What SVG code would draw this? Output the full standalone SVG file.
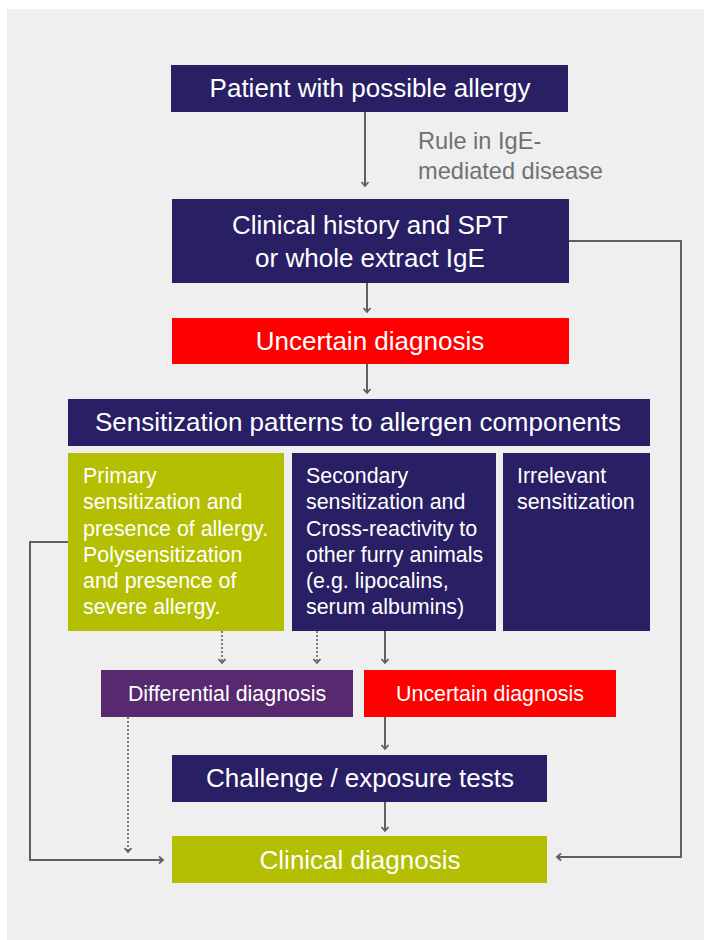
<svg xmlns="http://www.w3.org/2000/svg" width="704" height="940" viewBox="0 0 704 940">
<style>
.navy{fill:#291f64}
.green{fill:#b3bf00}
.red{fill:#ff0000}
.purple{fill:#57296f}
.big{font-family:"Liberation Sans",Arial,sans-serif;font-size:26px;fill:#ffffff}
.small{font-family:"Liberation Sans",Arial,sans-serif;font-size:21.4px;fill:#ffffff}
.lbl{font-family:"Liberation Sans",Arial,sans-serif;font-size:23.6px;fill:#707173}
.c{text-anchor:middle}
.ln{fill:none;stroke:#5d6063;stroke-width:2}
.dot{fill:none;stroke:#5d6063;stroke-width:1.6;stroke-dasharray:2 2}
</style>
<defs>
<marker id="arr" markerUnits="userSpaceOnUse" markerWidth="10" markerHeight="10" viewBox="0 0 10 10" refX="8" refY="5" orient="auto">
<path d="M4,1.5 L8,5 L4,8.5" fill="none" stroke="#5d6063" stroke-width="1.8" stroke-dasharray="none"/>
</marker>
</defs>
<rect x="7" y="9" width="697" height="931" fill="#efefef"/>
<g id="connectors">
<path class="ln" d="M365,111 V186" marker-end="url(#arr)"/>
<path class="ln" d="M367,283 V312" marker-end="url(#arr)"/>
<path class="ln" d="M367,364 V393" marker-end="url(#arr)"/>
<path class="dot" d="M222,631 V663" marker-end="url(#arr)"/>
<path class="dot" d="M317,631 V663" marker-end="url(#arr)"/>
<path class="ln" d="M385,631 V663" marker-end="url(#arr)"/>
<path class="ln" d="M385,717 V749" marker-end="url(#arr)"/>
<path class="ln" d="M385,802 V831" marker-end="url(#arr)"/>
<path class="dot" d="M128,717 V852" marker-end="url(#arr)"/>
<path class="ln" d="M68,542 H30 V860 H163" marker-end="url(#arr)"/>
<path class="ln" d="M569,241 H681 V857 H557" marker-end="url(#arr)"/>
<text class="lbl" x="418" y="149">Rule in IgE-</text>
<text class="lbl" x="418" y="179">mediated disease</text>
</g>
<g id="patient">
<rect class="navy" x="171" y="65" width="397" height="47"/>
<text class="big c" x="370" y="97">Patient with possible allergy</text>
</g>
<g id="history">
<rect class="navy" x="172" y="199" width="397" height="84"/>
<text class="big c" x="370" y="234">Clinical history and SPT</text>
<text class="big c" x="370" y="267">or whole extract IgE</text>
</g>
<g id="uncertain1">
<rect class="red" x="172" y="318" width="397" height="46"/>
<text class="big c" x="370" y="350">Uncertain diagnosis</text>
</g>
<g id="patterns">
<rect class="navy" x="68" y="399" width="582" height="47"/>
<text class="big c" x="358" y="431">Sensitization patterns to allergen components</text>
</g>
<g id="primary">
<rect class="green" x="68" y="453" width="216" height="178"/>
<text class="small" x="83" y="483">Primary</text>
<text class="small" x="83" y="509">sensitization and</text>
<text class="small" x="83" y="536">presence of allergy.</text>
<text class="small" x="83" y="562">Polysensitization</text>
<text class="small" x="83" y="588">and presence of</text>
<text class="small" x="83" y="614">severe allergy.</text>
</g>
<g id="secondary">
<rect class="navy" x="292" y="453" width="204" height="178"/>
<text class="small" x="306" y="483">Secondary</text>
<text class="small" x="306" y="509">sensitization and</text>
<text class="small" x="306" y="536">Cross-reactivity to</text>
<text class="small" x="306" y="562">other furry animals</text>
<text class="small" x="306" y="588">(e.g. lipocalins,</text>
<text class="small" x="306" y="614">serum albumins)</text>
</g>
<g id="irrelevant">
<rect class="navy" x="503" y="453" width="147" height="178"/>
<text class="small" x="517" y="483">Irrelevant</text>
<text class="small" x="517" y="509">sensitization</text>
</g>
<g id="differential">
<rect class="purple" x="101" y="670" width="252" height="47"/>
<text class="small c" x="227" y="701">Differential diagnosis</text>
</g>
<g id="uncertain2">
<rect class="red" x="364" y="670" width="252" height="47"/>
<text class="small c" x="490" y="701">Uncertain diagnosis</text>
</g>
<g id="challenge">
<rect class="navy" x="172" y="755" width="375" height="47"/>
<text class="big c" x="360" y="787">Challenge / exposure tests</text>
</g>
<g id="clinical">
<rect class="green" x="172" y="836" width="375" height="47"/>
<text class="big c" x="360" y="869">Clinical diagnosis</text>
</g>
</svg>
